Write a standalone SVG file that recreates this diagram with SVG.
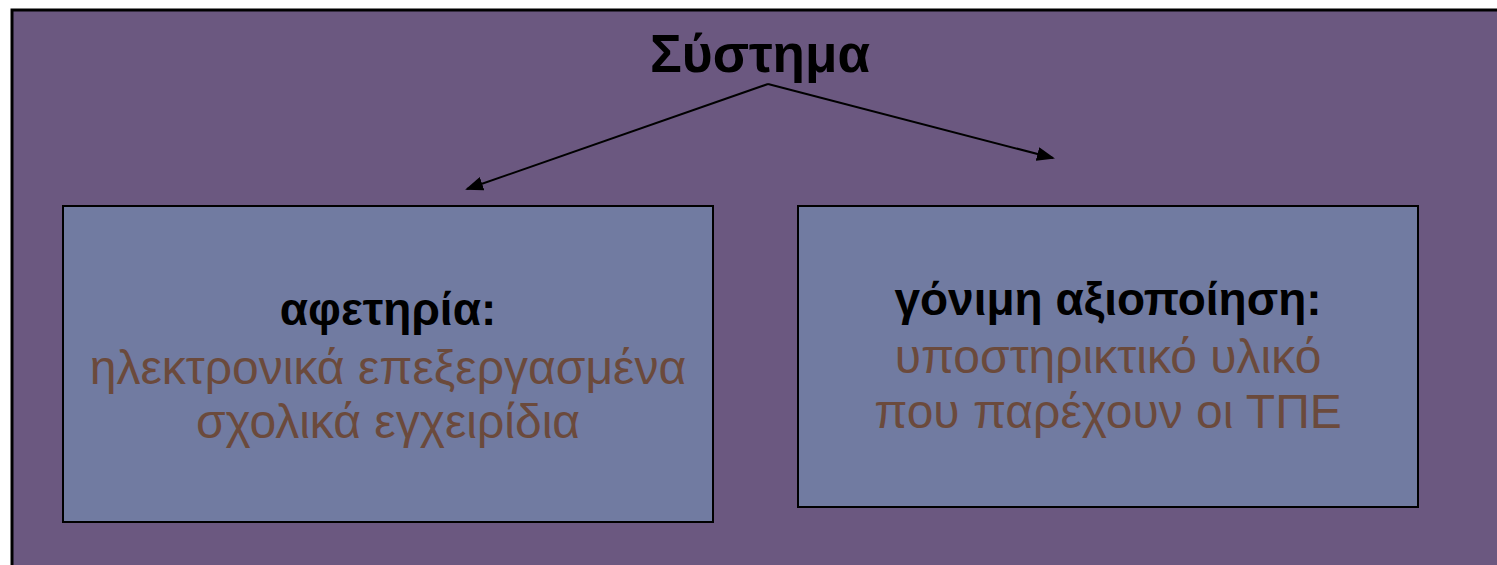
<svg xmlns="http://www.w3.org/2000/svg" width="1497" height="565" viewBox="0 0 1497 565">
<defs>
<style>
.frame{fill:#6b5880;stroke:#000;stroke-width:3}
.box{fill:#717ba1;stroke:#000;stroke-width:2}
.t{font-family:"Liberation Sans",Arial,sans-serif;text-anchor:middle}
.h{font-weight:bold;fill:#000}
.b{fill:#6b4a3c}
.conn{stroke:#000;stroke-width:2;fill:none;marker-end:url(#ah)}
</style>
<marker id="ah" markerWidth="18" markerHeight="14" refX="16" refY="7" orient="auto" markerUnits="userSpaceOnUse" viewBox="0 0 18 14">
<path d="M0,0 L18,7 L0,14 z" fill="#000"/>
</marker>
</defs>
<rect width="1497" height="565" fill="#fff"/>
<rect class="frame" x="12" y="10" width="1500" height="570"/>
<g id="title">
<text class="t h" x="760" y="72" font-size="53">Σύστημα</text>
</g>
<g id="connectors">
<path class="conn" d="M768,84 L467,189"/>
<path class="conn" d="M768,84 L1053,158"/>
</g>
<g id="node-left">
<rect class="box" x="63" y="206" width="650" height="316"/>
<text class="t h" x="388" y="325" font-size="46">αφετηρία:</text>
<text class="t b" x="388" y="384" font-size="48">ηλεκτρονικά επεξεργασμένα</text>
<text class="t b" x="388" y="438" font-size="48">σχολικά εγχειρίδια</text>
</g>
<g id="node-right">
<rect class="box" x="798" y="206" width="620" height="301"/>
<text class="t h" x="1108" y="315" font-size="46">γόνιμη αξιοποίηση:</text>
<text class="t b" x="1108" y="373" font-size="48">υποστηρικτικό υλικό</text>
<text class="t b" x="1108" y="428" font-size="48">που παρέχουν οι ΤΠΕ</text>
</g>
</svg>
